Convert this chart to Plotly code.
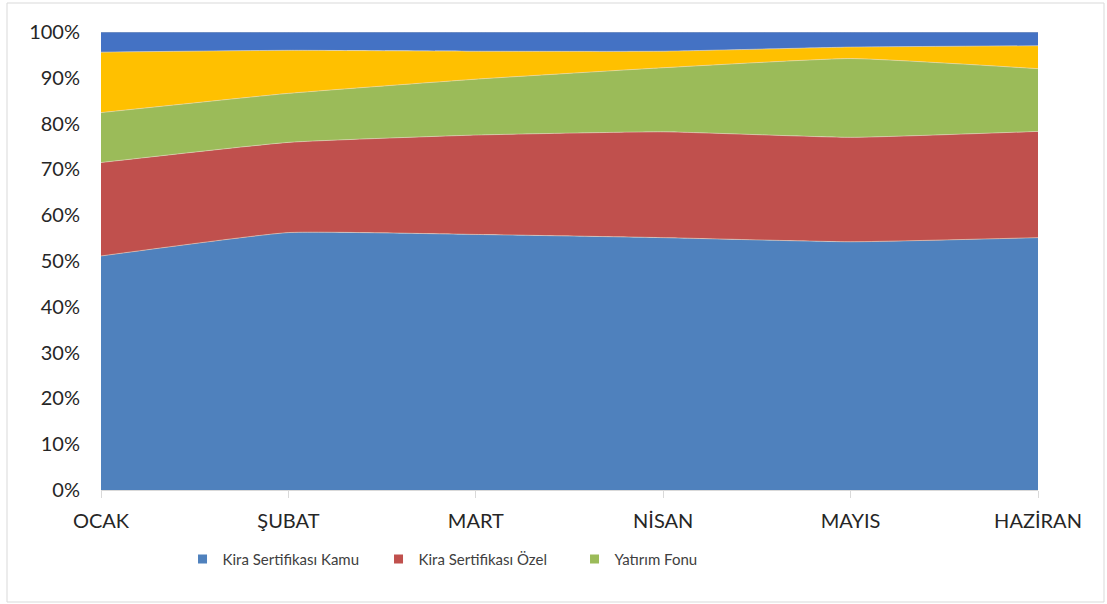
import plotly.graph_objects as go

months = ["OCAK", "ŞUBAT", "MART", "NİSAN", "MAYIS", "HAZİRAN"]
kamu = [51.1, 56.2, 55.8, 55.1, 54.2, 55.1]
ozel = [20.4, 19.7, 21.7, 23.1, 22.8, 23.2]
fon = [10.9, 10.7, 12.2, 14.0, 17.2, 13.7]
diger1 = [13.2, 9.4, 6.1, 3.6, 2.5, 5.0]
diger2 = [4.4, 4.0, 4.2, 4.2, 3.3, 3.0]

series = [
    ("Kira Sertifikası Kamu", kamu, "#4F81BD", True),
    ("Kira Sertifikası Özel", ozel, "#C0504D", True),
    ("Yatırım Fonu", fon, "#9BBB59", True),
    ("Diğer", diger1, "#FFC000", False),
    ("Diğer 2", diger2, "#4472C4", False),
]

fig = go.Figure()
for name, vals, color, show in series:
    fig.add_trace(go.Scatter(
        x=months, y=vals, name=name, stackgroup="one", groupnorm="percent",
        mode="lines", line=dict(width=0.6, color="rgba(230,220,200,0.9)", shape="spline", smoothing=0.4),
        fillcolor=color, showlegend=False, hoverinfo="x+y+name"))
for name, vals, color, show in series:
    if show:
        fig.add_trace(go.Scatter(
            x=[None], y=[None], name=name, mode="markers",
            marker=dict(symbol="square", size=9, color=color), showlegend=True))

fig.update_layout(
    width=1107, height=604,
    margin=dict(l=101, r=69, t=32, b=114),
    paper_bgcolor="white", plot_bgcolor="white",
    font=dict(family="Lato, Open Sans, sans-serif", color="#262626"),
    showlegend=True,
    legend=dict(orientation="h", traceorder="normal", x=0.087, xanchor="left", y=-0.115, yanchor="top",
                font=dict(size=15, color="#404040"), entrywidth=151, itemwidth=30,
                bgcolor="rgba(0,0,0,0)"),
    xaxis=dict(type="category", range=[0, 5], showgrid=False, zeroline=False,
               showline=True, linecolor="#D9D9D9", linewidth=1,
               ticks="outside", ticklen=7, tickcolor="#D9D9D9", tickwidth=1,
               ticklabelstandoff=6,
               tickfont=dict(size=20, color="#262626")),
    yaxis=dict(range=[0, 100], dtick=10, ticksuffix="%", showgrid=False, zeroline=False,
               showline=False, tickfont=dict(size=20, color="#262626"), ticks="",
               ticklabelstandoff=20),
    shapes=[dict(type="rect", xref="paper", yref="paper",
                 x0=(7 - 101) / 937, x1=(1104 - 101) / 937,
                 y0=(490 - 602) / 458, y1=(490 - 3) / 458,
                 line=dict(color="#D9D9D9", width=1), layer="below")],
)

fig.write_html("out.html", config={"displayModeBar": False},
               post_script="document.body.style.margin='0';")
